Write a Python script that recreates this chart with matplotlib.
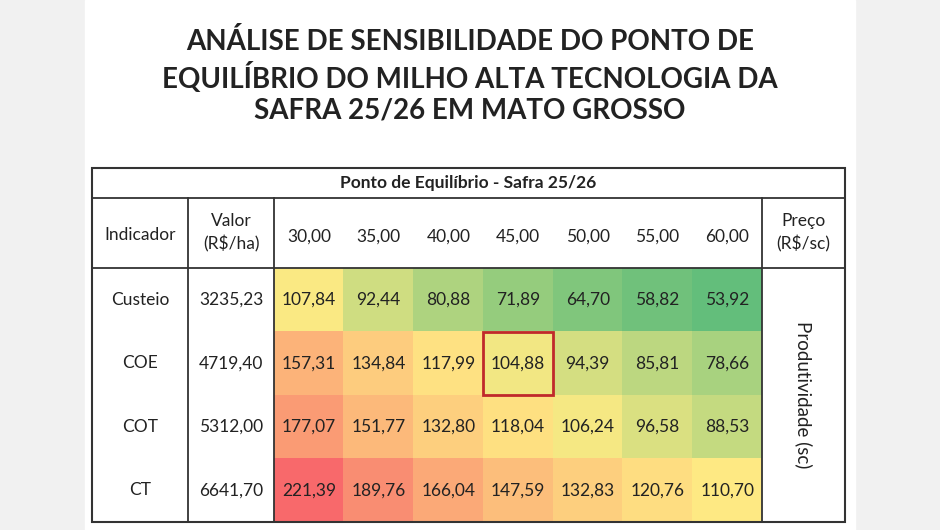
import numpy as np
import matplotlib
matplotlib.use("Agg")
import matplotlib.pyplot as plt
from matplotlib.colors import LinearSegmentedColormap, TwoSlopeNorm
from matplotlib.patches import Rectangle

title = "ANÁLISE DE SENSIBILIDADE DO PONTO DE\nEQUILÍBRIO DO MILHO ALTA TECNOLOGIA DA\nSAFRA 25/26 EM MATO GROSSO"
table_title = "Ponto de Equilíbrio - Safra 25/26"
indicators = ["Custeio", "COE", "COT", "CT"]
costs = ["3235,23", "4719,40", "5312,00", "6641,70"]
prices = ["30,00", "35,00", "40,00", "45,00", "50,00", "55,00", "60,00"]
values = [
    [107.84, 92.44, 80.88, 71.89, 64.70, 58.82, 53.92],
    [157.31, 134.84, 117.99, 104.88, 94.39, 85.81, 78.66],
    [177.07, 151.77, 132.80, 118.04, 106.24, 96.58, 88.53],
    [221.39, 189.76, 166.04, 147.59, 132.83, 120.76, 110.70],
]
highlight = (1, 3)

fam = "Lato"
fs = 12.5
fig = plt.figure(figsize=(9.4, 5.3), dpi=100)
fig.patch.set_facecolor("#f1f1f1")
ax = fig.add_axes([0, 0, 1, 1])
ax.set_xlim(0, 940); ax.set_ylim(530, 0); ax.axis("off")
ax.add_patch(Rectangle((85, 0), 770, 530, color="white", zorder=0))

ax.text(470, 76, title, ha="center", va="center", fontsize=20, fontweight="bold",
        color="#222222", family=fam, linespacing=1.25)

L, R, T, B = 92, 845, 168, 522
c1, c2 = 188, 274
c3 = 762
h1, h2 = 198, 268
vals = np.array(values)
cmap = LinearSegmentedColormap.from_list("ryg", ["#63be7b", "#ffeb84", "#f8696b"])
norm = TwoSlopeNorm(vmin=vals.min(), vcenter=np.percentile(vals, 50), vmax=vals.max())
ax.imshow(vals, cmap=cmap, norm=norm, extent=(c2, c3, B, h2), aspect="auto",
          interpolation="nearest", zorder=1)

lc = "#333333"
ax.add_patch(Rectangle((L, T), R - L, B - T, fill=False, ec=lc, lw=1.5, zorder=3))
ax.plot([L, R], [h1, h1], color=lc, lw=1.3, zorder=3)
ax.plot([L, R], [h2, h2], color=lc, lw=1.3, zorder=3)
for x in (c1, c2, c3):
    ax.plot([x, x], [h1, B], color=lc, lw=1.3, zorder=3)

tc = "#222222"
ax.text((L + R) / 2, (T + h1) / 2, table_title, ha="center", va="center",
        fontsize=12.5, fontweight="bold", color=tc, family=fam)
hy = (h1 + h2) / 2
ax.text((L + c1) / 2, hy + 2, "Indicador", ha="center", va="center", fontsize=fs, color=tc, family=fam)
ax.text((c1 + c2) / 2, hy, "Valor\n(R$/ha)", ha="center", va="center", fontsize=fs, color=tc,
        family=fam, linespacing=1.45)
ax.text((c3 + R) / 2, hy, "Preço\n(R$/sc)", ha="center", va="center", fontsize=fs, color=tc,
        family=fam, linespacing=1.45)
cw = (c3 - c2) / len(prices)
rh = (B - h2) / len(indicators)
for j, p in enumerate(prices):
    ax.text(c2 + cw * (j + 0.5), hy + 4, p, ha="center", va="center", fontsize=fs, color=tc, family=fam)
for i, (ind, cost) in enumerate(zip(indicators, costs)):
    y = h2 + rh * (i + 0.5)
    ax.text((L + c1) / 2, y, ind, ha="center", va="center", fontsize=fs, color=tc, family=fam)
    ax.text((c1 + c2) / 2, y, cost, ha="center", va="center", fontsize=fs, color=tc, family=fam)
    for j in range(len(prices)):
        ax.text(c2 + cw * (j + 0.5), y, f"{values[i][j]:.2f}".replace(".", ","), ha="center",
                va="center", fontsize=fs, color=tc, family=fam, zorder=4)
ax.text((c3 + R) / 2, (h2 + B) / 2, "Produtividade (sc)", rotation=-90, ha="center", va="center",
        fontsize=13.5, color=tc, family=fam)
hi, hj = highlight
ax.add_patch(Rectangle((c2 + cw * hj, h2 + rh * hi), cw, rh, fill=False, ec="#c0292b", lw=2, zorder=5))

fig.savefig("out.png", dpi=100)
